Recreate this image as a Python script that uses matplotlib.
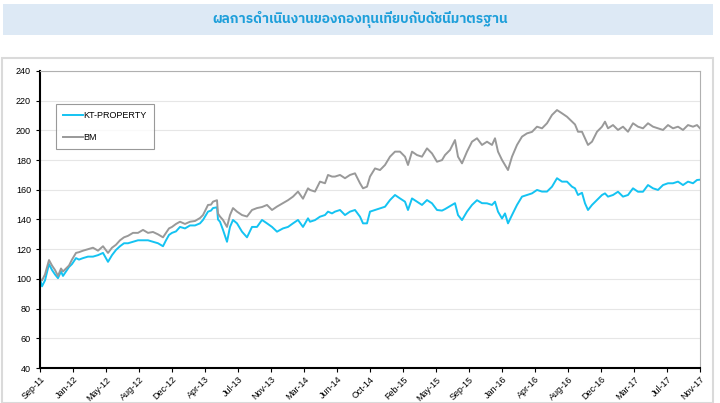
import matplotlib
matplotlib.use("Agg")
import matplotlib.pyplot as plt
from matplotlib import font_manager
from matplotlib.patches import Rectangle
from matplotlib.ft2font import FT2Font
import numpy as np

title = "ผลการดำเนินงานของกองทุนเทียบกับดัชนีมาตรฐาน"
tick_labels = ["Sep-11", "Jan-12", "May-12", "Aug-12", "Dec-12", "Apr-13", "Jul-13",
               "Nov-13", "Mar-14", "Jun-14", "Oct-14", "Feb-15", "May-15", "Sep-15",
               "Jan-16", "Apr-16", "Aug-16", "Dec-16", "Mar-17", "Jul-17", "Nov-17"]
series_names = ["KT-PROPERTY", "BM"]

# observation number on a 0..660 time scale (Sep-11 .. Nov-17)
obs = [0, 2, 5, 9, 12, 15, 18, 21, 23, 26, 29, 32, 36, 39, 43, 48, 53, 58, 63, 68,
       72, 76, 80, 84, 88, 93, 98, 103, 108, 113, 118, 123, 126, 129, 132, 136,
       140, 145, 150, 155, 160, 163, 166, 168, 171, 173, 177, 178, 180, 183, 187,
       190, 193, 197, 202, 207, 212, 217, 222, 227, 232, 237, 243, 248, 253, 258,
       263, 268, 270, 275, 280, 285, 288, 292, 295, 300, 305, 310, 315, 320, 323,
       327, 330, 335, 340, 345, 350, 355, 360, 365, 368, 372, 377, 382, 387, 392,
       397, 402, 405, 410, 415, 418, 422, 427, 432, 437, 442, 447, 452, 455, 458,
       462, 465, 468, 472, 477, 482, 487, 492, 497, 502, 507, 512, 517, 522, 527,
       532, 535, 538, 542, 545, 548, 552, 557, 562, 565, 568, 573, 578, 583, 588,
       593, 598, 603, 608, 613, 618, 623, 628, 633, 638, 643, 648, 653, 657, 660]

kt = [100, 95, 99, 110, 106, 103, 100.5, 105, 102, 105, 108, 110, 114, 113, 114,
      115, 115, 116, 117.5, 111.5, 116, 119.5, 122, 124, 124, 125, 126, 126, 126,
      125, 124, 122, 126, 129.6, 131, 132,
      135, 134, 136, 136, 137.4, 139.7, 143, 145.3, 146, 147.7, 148.2, 140, 138.5,
      133, 125, 135, 139.7, 137.4, 131.8, 128, 135, 135, 139.7, 137.4, 135, 131.8,
      134, 135, 137.4, 139.7, 135, 140.8,
      138.5, 139.6, 141.9, 143, 145.3, 144.1, 145.3, 146.4, 143, 145.3, 146.4,
      141.9, 137.4, 137.4, 145.3, 146.4, 147.5, 148.6, 153.1, 156.5, 154.2, 152,
      146.4, 154.2, 152, 149.8, 153.1, 150.9, 146.4, 146,
      147, 149, 151, 143, 139.6, 145.3, 149.8, 153, 151, 150.9, 149.8, 152, 145.3,
      140.7, 144.1, 137.4, 143, 149.8, 155.4, 156.5, 157.6, 159.9, 158.8, 158.8,
      162.1, 167.8, 165.5, 165.5, 162.1, 161,
      156.5, 158, 150.9, 146.4, 149.8, 153.1, 156.5, 157.6, 155.4, 156.5, 158.7,
      155.4, 156.5, 161, 158.7, 158.7, 163.2, 161, 159.9, 163.2, 164.4, 164.4,
      165.5, 163.2, 165.5, 164.4, 166.6, 166.8]

bm = [100, 99, 103, 112.7, 109, 106, 102, 107, 105, 107, 109, 113, 117.5, 118, 119,
      120, 121, 119, 122, 117.5, 121, 123, 126, 128, 129, 131, 131, 133, 131,
      131.6, 130, 128, 131, 134, 135, 137,
      138.5, 137, 138.5, 139, 141, 143, 147, 149.8, 150, 152, 153, 144, 142,
      139.7, 135, 143, 147.7, 145.3, 143, 142, 146.4, 147.7, 148.4, 149.8, 146.4,
      148.7, 151, 153, 155.4, 158.8, 154, 161,
      159.9, 158.8, 165.5, 164.4, 170, 168.9, 168.9, 170, 167.8, 170, 171.1,
      164.4, 161, 162.1, 168.9, 174.4, 173.3, 176.7, 182.3, 185.7, 185.7, 182.3,
      176.7, 185.7, 183.4, 182.3, 187.9, 184.5, 178.9, 180,
      183.4, 186.8, 193.5, 182.3, 177.8, 185.7, 192.4, 194.7, 190.2, 192.4, 190.2,
      194.7, 185.7, 180.1, 176.7, 173.3, 182.3, 190.2, 195.8, 198, 199, 202.5,
      201.4, 204.8, 210.4, 213.7, 211.5, 209.2, 205.9, 204,
      199.1, 199.1, 194.7, 190.2, 192.4, 199.1, 202.5, 205.9, 201.4, 203.6, 200.3,
      202.5, 199.1, 204.8, 202.5, 201.4, 204.8, 202.5, 201.4, 200.3, 203.6, 201.4,
      202.5, 200.3, 203.6, 202.5, 203.6, 201.4]

y_ticks = list(range(40, 241, 20))


def find_thai_font():
    cands = []
    for f in font_manager.fontManager.ttflist:
        try:
            ft = FT2Font(f.fname)
            if 0x0E01 in ft.get_charmap():
                cands.append(f.name)
        except Exception:
            pass
    for pref in ["Thai", "Loma", "Garuda", "Tlwg", "Sarabun"]:
        for c in cands:
            if pref.lower() in c.lower():
                return c
    return cands[0] if cands else None


thai = find_thai_font()
base = "Liberation Sans"
plt.rcParams["font.family"] = [base, "DejaVu Sans"]

W, H = 720, 403
fig = plt.figure(figsize=(7.2, 4.03), dpi=100)
fig.patch.set_facecolor("white")

# title band
fig.patches.append(Rectangle((3 / W, 1 - 35 / H), 710 / W, 31 / H,
                             transform=fig.transFigure, facecolor="#dde9f5",
                             edgecolor="none", zorder=0))
fam = [thai, base, "DejaVu Sans"] if thai else [base, "DejaVu Sans"]
fig.text(360 / W, 1 - 19 / H, title, ha="center", va="center",
         fontsize=9.8, fontweight="bold", color="#1e9fda", family=fam)

# chart panel frame
fig.patches.append(Rectangle((1.5 / W, 0.5 / H), 711 / W, (H - 58) / H,
                             transform=fig.transFigure, facecolor="none",
                             edgecolor="#dadada", linewidth=1.5, zorder=0))

ax = fig.add_axes([40 / W, 1 - 368 / H, 660 / W, 297 / H])
ax.plot(obs, kt, color="#14c3f2", lw=1.4, label=series_names[0])
ax.plot(obs, bm, color="#999999", lw=1.4, label=series_names[1])

ax.set_xlim(0, 660)
ax.set_ylim(40, 240)
ax.set_yticks(y_ticks)
ax.set_xticks(np.linspace(0, 660, len(tick_labels)))
ax.set_xticklabels(tick_labels, rotation=45, ha="right", rotation_mode="anchor")
ax.tick_params(axis="both", labelsize=6.5, colors="black", length=3, width=0.8,
               direction="out")
ax.tick_params(axis="x", pad=2)
ax.grid(axis="y", color="#e6e6e6", lw=0.8)
ax.set_axisbelow(True)
for s in ["left", "bottom"]:
    ax.spines[s].set_color("black")
    ax.spines[s].set_linewidth(1.5)
for s in ["top", "right"]:
    ax.spines[s].set_color("#b0b0b0")
    ax.spines[s].set_linewidth(0.8)

leg = ax.legend(loc="upper left", bbox_to_anchor=(16 / 660, 1 - 33 / 297),
                frameon=True, fancybox=False, fontsize=6.5, handlelength=2.2,
                handletextpad=0.1, labelspacing=1.45, borderpad=0.75,
                borderaxespad=0)
leg.get_frame().set_edgecolor("#808080")
leg.get_frame().set_linewidth(0.8)
leg._legend_box.align = "left"

fig.savefig("out.png", dpi=100)
